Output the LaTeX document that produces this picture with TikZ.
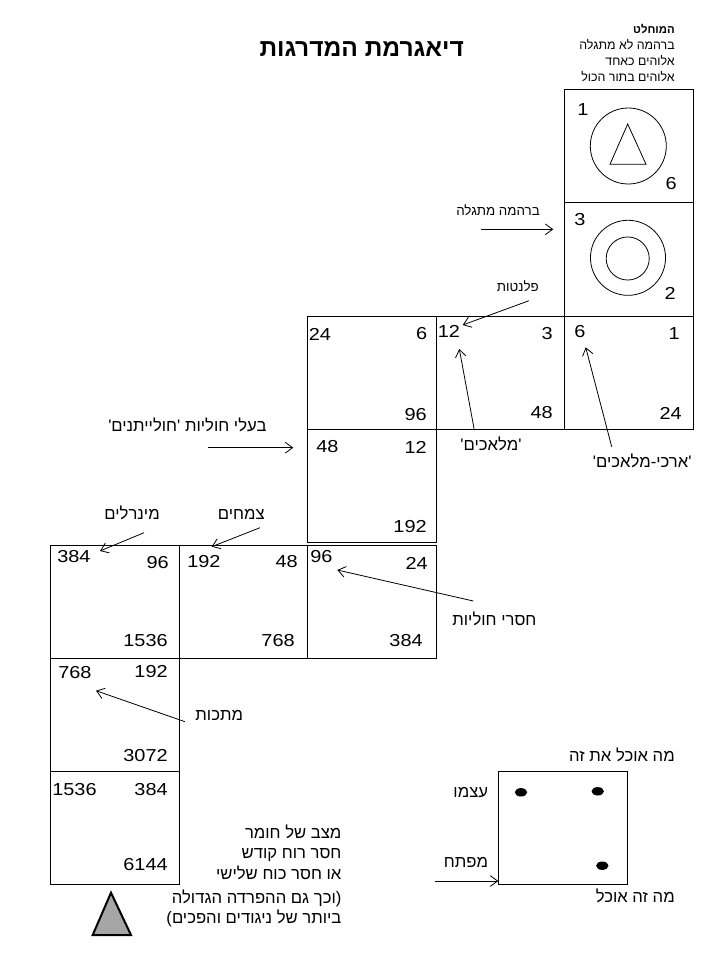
\documentclass[tikz,border=0pt]{standalone}
\usepackage{fontspec}
\setmainfont{Liberation Sans}
\newfontfamily\hebfont[Script=Hebrew,Ligatures=TeXOff]{Liberation Sans}
\newfontfamily\numfont[FakeStretch=1.15]{Liberation Sans}
\TeXXeTstate=1
\usetikzlibrary{arrows.meta}
\newcommand{\heb}[1]{\beginR#1\endR}
\tikzset{
  %Define standard arrow tip
  >={Straight Barb[length=5.5pt,width=8pt]},
  %Define style for the cells
  cellbox/.style={
    rectangle,
    draw=black, line width=0.75pt,
    minimum width=96.4pt,
    minimum height=85pt,
    inner sep=0pt, outer sep=0pt},
  % numbers in the cells
  num/.style={inner sep=0pt, font=\numfont\fontsize{13}{15}\selectfont},
  % hebrew labels
  lbl/.style={inner sep=0pt, anchor=base east, font=\hebfont\fontsize{12.5}{15}\selectfont},
  small/.style={lbl, font=\hebfont\fontsize{10}{12}\selectfont},
  % Define arrow style
  pointer/.style={
    ->,
    line width=0.6pt}
}

\begin{document}
\begin{tikzpicture}[x=0.75pt,y=-0.75pt]
  \useasboundingbox (0,0) rectangle (720,960);
  % title and the absolute
  \node[inner sep=0pt, anchor=base, font=\hebfont\bfseries\fontsize{18.4}{22}\selectfont] (title) at (361.7,56.7) {\heb{דיאגרמת המדרגות}};
  \node[small, font=\hebfont\bfseries\fontsize{8.5}{10}\selectfont] (absolute) at (675,33.5) {\heb{המוחלט}};
  \node[small, font=\hebfont\fontsize{9.3}{11}\selectfont] (abs1) at (675,49.5) {\heb{ברהמה לא מתגלה}};
  \node[small, font=\hebfont\fontsize{9.3}{11}\selectfont] (abs2) at (675,65.5) {\heb{אלוהים כאחד}};
  \node[small, font=\hebfont\fontsize{9.3}{11}\selectfont] (abs3) at (675,81.5) {\heb{אלוהים בתור הכול}};

  % the cells
  \node[cellbox] (absA) at (629,146.3) {};
  \node[cellbox] (absB) at (629,259.6) {};
  \node[cellbox] (c21) at (372,372.9) {};
  \node[cellbox] (c22) at (500.5,372.9) {};
  \node[cellbox] (c23) at (629,372.9) {};
  \node[cellbox] (c31) at (372,486.2) {};
  \node[cellbox] (c41) at (115,601.7) {};
  \node[cellbox] (c42) at (243.5,601.7) {};
  \node[cellbox] (c43) at (372,601.7) {};
  \node[cellbox] (c51) at (115,715) {};
  \node[cellbox] (c61) at (115,828.3) {};
  \node[cellbox] (key) at (562.8,827.7) {};

  % circles and triangle
  \node[circle, draw, line width=0.6pt, minimum size=57pt, inner sep=0pt] (sphereA) at (628.3,146) {};
  \draw[line width=0.6pt] (627.7,124) -- (646,164.3) -- (610,164.3) -- cycle;
  \node[circle, draw, line width=0.6pt, minimum size=56.3pt, inner sep=0pt] (sphereB) at (628,257.8) {};
  \node[circle, draw, line width=0.6pt, minimum size=32.3pt, inner sep=0pt] (coreB) at (627.7,258.5) {};

  % numbers
  \foreach \x/\y/\n [count=\i] in {577/110/1, 574/220/3, 308.5/334/24, 437.5/331.5/12,
      574/331.5/6, 316/447/48, 57/557/384, 187/562/192, 310/557/96, 58/673/768, 52/789.5/1536}
    \node[num, anchor=west] (tl\i) at (\x,\y) {\n};
  \foreach \x/\y/\n [count=\i] in {677/183.3/6, 676/293/2, 427.5/334/6, 427/415/96,
      553/334/3, 553/413/48, 680/334/1, 682/413/24, 427/447/12, 427/526.5/192,
      169/563/96, 168/641/1536, 298/562/48, 295/641/768, 428/563/24, 423/641/384,
      168/672/192, 168/756/3072, 168/789.5/384, 168/865/6144}
    \node[num, anchor=east] (r\i) at (\x,\y) {\n};

  % labels with arrows
  \node[small] (brahma) at (540,215) {\heb{ברהמה מתגלה}};
  \coordinate (brahmaTail) at (480.7,229.3);
  \coordinate (brahmaTip) at (553.3,229.3);
  \node[small] (planets) at (539,291) {\heb{פלנטות}};
  \coordinate (planetsTail) at (529,300.7);
  \coordinate (planetsTip) at (462.7,325);
  \node[lbl] (angels) at (521.7,450.5) {\heb{'מלאכים'}};
  \coordinate (angelsTail) at (474.3,430);
  \coordinate (angelsTip) at (459.3,349);
  \node[lbl] (archangels) at (691.7,467) {\heb{'ארכי-מלאכים'}};
  \coordinate (archTail) at (611.7,446.7);
  \coordinate (archTip) at (585.7,347.3);
  \node[lbl] (vertebrates) at (266.7,431.7) {\heb{בעלי חוליות 'חולייתנים'}};
  \coordinate (vertTail) at (208.3,447.7);
  \coordinate (vertTip) at (293.3,447.7);
  \node[lbl] (minerals) at (160,519.5) {\heb{מינרלים}};
  \coordinate (minTail) at (144,532.7);
  \coordinate (minTip) at (100,551);
  \node[lbl] (plants) at (265,519.5) {\heb{צמחים}};
  \coordinate (plantsTail) at (260,527.7);
  \coordinate (plantsTip) at (211.7,546.7);
  \node[lbl] (invertebrates) at (536.7,625) {\heb{חסרי חוליות}};
  \coordinate (invTail) at (473.3,601);
  \coordinate (invTip) at (337.3,570);
  \node[lbl] (metals) at (243.3,720) {\heb{מתכות}};
  \coordinate (metTail) at (185,721.7);
  \coordinate (metTip) at (96,690.7);
  \path[pointer]
    (brahmaTail) edge (brahmaTip)
    (planetsTail) edge (planetsTip)
    (angelsTail) edge (angelsTip)
    (archTail) edge (archTip)
    (vertTail) edge (vertTip)
    (minTail) edge (minTip)
    (plantsTail) edge (plantsTip)
    (invTail) edge (invTip)
    (metTail) edge (metTip);

  % state of matter
  \node[lbl] (matter1) at (341.7,838) {\heb{מצב של חומר}};
  \node[lbl] (matter2) at (341.7,858.3) {\heb{חסר רוח קודש}};
  \node[lbl] (matter3) at (341.7,879) {\heb{או חסר כוח שלישי}};
  \node[lbl] (matter4) at (341.7,903) {\heb{(וכך גם ההפרדה הגדולה}};
  \node[lbl] (matter5) at (341.7,923.5) {\heb{ביותר של ניגודים והפכים)}};
  \draw[line width=1.5pt, fill=gray!70] (111,892.7) -- (131,935) -- (92.7,935) -- cycle;

  % key
  \node[lbl] (eatsThis) at (675,761.5) {\heb{מה אוכל את זה}};
  \node[lbl] (itself) at (488.3,797) {\heb{עצמו}};
  \node[lbl] (key3) at (488.3,867) {\heb{מפתח}};
  \node[lbl] (thisEats) at (675,902) {\heb{מה זה אוכל}};
  \fill (521,792.3) ellipse [x radius=6.2, y radius=4.2];
  \fill (597.7,791.3) ellipse [x radius=6.2, y radius=4.2];
  \fill (602.3,865.7) ellipse [x radius=6.2, y radius=4.2];
  \coordinate (keyTail) at (435,881);
  \coordinate (keyTip) at (498.3,881);
  \draw[pointer] (keyTail) -- (keyTip);
\end{tikzpicture}
\end{document}
